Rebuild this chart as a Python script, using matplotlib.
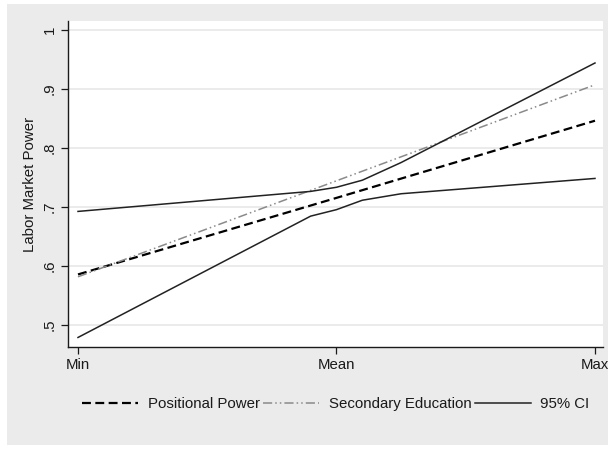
import numpy as np
import matplotlib.pyplot as plt
from matplotlib.patches import Rectangle

plt.rcParams["font.family"] = ["Liberation Sans", "DejaVu Sans"]

# predicted labor market power at min / mean / max of the predictor
levels = ["Min", "Mean", "Max"]
x_pred = [0, 1, 2]
positional = [0.585, 0.715, 0.846]
secondary = [0.581, 0.744, 0.907]

# 95% confidence band, evaluated on a finer grid around the mean
x_ci = [0, 0.9, 1.0, 1.1, 1.25, 2]
ci_upper = [0.692, 0.726, 0.733, 0.745, 0.775, 0.944]
ci_lower = [0.478, 0.684, 0.695, 0.711, 0.722, 0.748]

y_ticks = [0.5, 0.6, 0.7, 0.8, 0.9, 1.0]
y_ticklabels = [".5", ".6", ".7", ".8", ".9", "1"]

BG = "#ebebeb"
GRID = "#e8e8e8"
INK = "#1a1a1a"
FS = 10.8

fig = plt.figure(figsize=(6.11, 4.49), dpi=100)
fig.patch.set_facecolor("white")
fig.patches.append(Rectangle((7 / 611, 4 / 449), 601 / 611, 441 / 449,
                             transform=fig.transFigure, facecolor=BG,
                             edgecolor="none", zorder=-5))

ax = fig.add_axes([68 / 611, 1 - 347 / 449, 535 / 611, 326 / 449])
ax.set_facecolor("white")

ax.plot(x_pred, positional, color="black", lw=1.6, ls=(0, (4, 2)),
        label="Positional Power", zorder=3)
ax.plot(x_pred, secondary, color="#8a8a8a", lw=1.1,
        ls=(0, (6, 2, 1, 2, 1, 2)), label="Secondary Education", zorder=3)
ax.plot(x_ci, ci_upper, color="#222222", lw=1.1, label="95% CI", zorder=3)
ax.plot(x_ci, ci_lower, color="#222222", lw=1.1, zorder=3)

ax.set_xlim(-0.0387, 2.031)
ax.set_ylim(0.4618, 1.0153)
ax.set_xticks(x_pred)
ax.set_xticklabels(levels, fontsize=FS, color=INK)
ax.set_yticks(y_ticks)
ax.set_yticklabels(y_ticklabels, fontsize=FS, color=INK, rotation=90,
                   va="center")
ax.grid(axis="y", color=GRID, lw=1.2, zorder=0)
ax.set_axisbelow(True)
ax.tick_params(direction="out", length=5, width=0.9, color=INK, pad=3)
for s in ["top", "right"]:
    ax.spines[s].set_visible(False)
for s in ["left", "bottom"]:
    ax.spines[s].set_color(INK)
    ax.spines[s].set_linewidth(1.0)
ax.set_ylabel("Labor Market Power", fontsize=FS, color=INK, labelpad=4)

fig.legend(loc="center", bbox_to_anchor=(336 / 611, 1 - 404 / 449), ncol=3,
           frameon=False, fontsize=FS, handlelength=3.7, handletextpad=0.65,
           columnspacing=0.25, labelcolor=INK)

fig.savefig("out.png", dpi=100, facecolor="white")
